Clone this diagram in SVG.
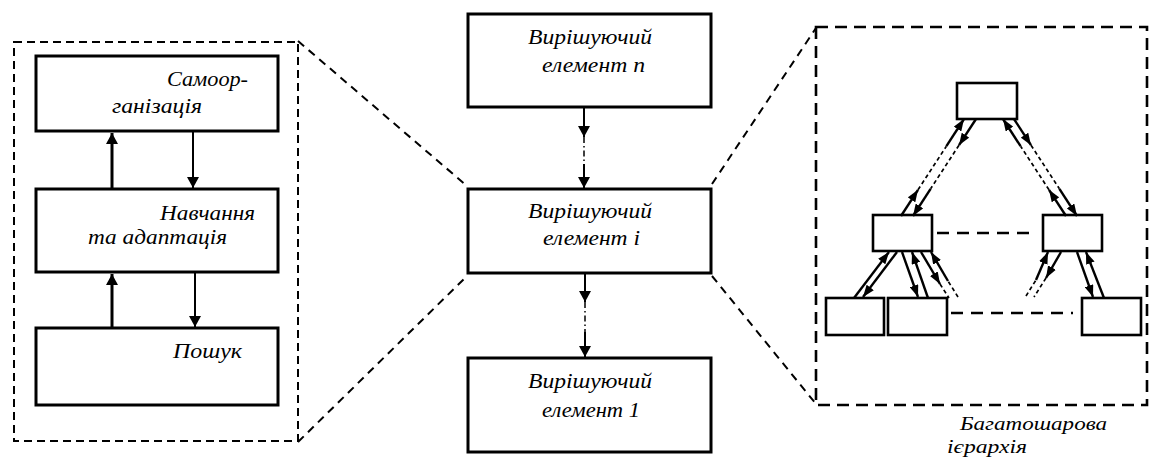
<svg xmlns="http://www.w3.org/2000/svg" width="1151" height="457" viewBox="0 0 1151 457">
  <style>
    .box { fill: #ffffff; stroke: #000; stroke-width: 3; }
    .sbox { fill: #ffffff; stroke: #000; stroke-width: 2.6; }
    .frame { fill: none; stroke: #000; stroke-width: 2; stroke-dasharray: 8 5; }
    .frame2 { fill: none; stroke: #000; stroke-width: 2.6; stroke-dasharray: 12 7; }
    .zoom { fill: none; stroke: #000; stroke-width: 2; stroke-dasharray: 8 6; }
    .lbl { font-family: "Liberation Serif", "DejaVu Serif", serif; font-style: italic; font-size: 21px; fill: #000; }
    .cap { font-size: 19px; }
    .up { stroke: #000; stroke-width: 3; fill: none; }
    .dn { stroke: #000; stroke-width: 2; fill: none; }
    .dd { stroke: #000; stroke-width: 1.5; fill: none; stroke-dasharray: 6 3 1.5 3; }
    .tl { stroke: #000; stroke-width: 2.4; fill: none; }
    .td { stroke: #000; stroke-width: 1.7; fill: none; stroke-dasharray: 4 3; }
    .hd { stroke: #000; stroke-width: 2.6; fill: none; stroke-dasharray: 12 8; }
  </style>
  <defs>
    <marker id="arr" markerUnits="userSpaceOnUse" markerWidth="12" markerHeight="12" refX="11" refY="6" orient="auto">
      <path d="M0,0 L11,6 L0,12 z" fill="#000"/>
    </marker>
    <marker id="arrs" markerUnits="userSpaceOnUse" markerWidth="13" markerHeight="9" refX="12" refY="4.5" orient="auto">
      <path d="M0,0 L12,4.5 L0,9 z" fill="#000"/>
    </marker>
  </defs>

  <!-- zoom-out guides from the middle element -->
  <g id="guides">
    <rect class="frame" x="14" y="42" width="284" height="399"/>
    <rect class="frame2" x="816" y="27" width="331" height="378"/>
    <line class="zoom" x1="298" y1="41" x2="467" y2="186"/>
    <line class="zoom" x1="298" y1="442" x2="467" y2="276"/>
    <line class="zoom" x1="712" y1="184" x2="816" y2="28"/>
    <line class="zoom" x1="712" y1="276" x2="816" y2="404"/>
  </g>

  <!-- left column: adaptation levels -->
  <g id="n-self">
    <rect class="box" x="36" y="56" width="242" height="75"/>
    <text class="lbl" x="167" y="86" textLength="81" lengthAdjust="spacingAndGlyphs">Самоор-</text>
    <text class="lbl" x="112" y="113" textLength="90" lengthAdjust="spacingAndGlyphs">ганізація</text>
  </g>
  <g id="n-learn">
    <rect class="box" x="36" y="189" width="242" height="83"/>
    <text class="lbl" x="160" y="220" textLength="95" lengthAdjust="spacingAndGlyphs">Навчання</text>
    <text class="lbl" x="88" y="244" textLength="139" lengthAdjust="spacingAndGlyphs">та адаптація</text>
  </g>
  <g id="n-search">
    <rect class="box" x="36" y="328" width="242" height="77"/>
    <text class="lbl" x="173" y="358" textLength="69" lengthAdjust="spacingAndGlyphs">Пошук</text>
  </g>

  <!-- middle column: decision elements -->
  <g id="n-elem-n">
    <rect class="box" x="468" y="14" width="243" height="93"/>
    <text class="lbl" x="528" y="44" textLength="124" lengthAdjust="spacingAndGlyphs">Вирішуючий</text>
    <text class="lbl" x="542" y="72" textLength="103" lengthAdjust="spacingAndGlyphs">елемент n</text>
  </g>
  <g id="n-elem-i">
    <rect class="box" x="468" y="189" width="243" height="84"/>
    <text class="lbl" x="528" y="218" textLength="124" lengthAdjust="spacingAndGlyphs">Вирішуючий</text>
    <text class="lbl" x="543" y="245" textLength="97" lengthAdjust="spacingAndGlyphs">елемент і</text>
  </g>
  <g id="n-elem-1">
    <rect class="box" x="468" y="358" width="243" height="94"/>
    <text class="lbl" x="528" y="388" textLength="124" lengthAdjust="spacingAndGlyphs">Вирішуючий</text>
    <text class="lbl" x="542" y="417" textLength="98" lengthAdjust="spacingAndGlyphs">елемент 1</text>
  </g>

  <!-- right frame: layered hierarchy -->
  <g id="t-top"><rect class="sbox" x="957" y="83" width="60" height="36"/></g>
  <g id="t-midL"><rect class="sbox" x="873" y="215" width="59" height="36"/></g>
  <g id="t-midR"><rect class="sbox" x="1043" y="215" width="59" height="36"/></g>
  <g id="t-b1"><rect class="sbox" x="826" y="298" width="58" height="37"/></g>
  <g id="t-b2"><rect class="sbox" x="888" y="298" width="59" height="37"/></g>
  <g id="t-b3"><rect class="sbox" x="1082" y="298" width="59" height="37"/></g>
  <g id="caption">
    <text class="lbl cap" x="960" y="430" textLength="147" lengthAdjust="spacingAndGlyphs">Багатошарова</text>
    <text class="lbl cap" x="947" y="453" textLength="80" lengthAdjust="spacingAndGlyphs">ієрархія</text>
  </g>

  <g id="connectors">
    <!-- left column -->
    <line class="up" x1="112" y1="189" x2="112" y2="133" marker-end="url(#arr)"/>
    <line class="dn" x1="193" y1="131" x2="193" y2="188" marker-end="url(#arr)"/>
    <line class="up" x1="112" y1="328" x2="112" y2="274" marker-end="url(#arr)"/>
    <line class="dn" x1="195" y1="272" x2="195" y2="327" marker-end="url(#arr)"/>

    <!-- middle column -->
    <line class="dn" x1="584" y1="107" x2="584" y2="137" marker-end="url(#arr)"/>
    <line class="dd" x1="584" y1="137" x2="584" y2="165"/>
    <line class="dn" x1="584" y1="164" x2="584" y2="188" marker-end="url(#arr)"/>
    <line class="dn" x1="585" y1="273" x2="585" y2="302" marker-end="url(#arr)"/>
    <line class="dd" x1="585" y1="302" x2="585" y2="333"/>
    <line class="dn" x1="585" y1="332" x2="585" y2="357" marker-end="url(#arr)"/>

    <!-- hierarchy: top to middle level -->
    <line class="tl" x1="901" y1="216" x2="918" y2="189.8" marker-end="url(#arrs)"/>
    <line class="td" x1="918" y1="189.8" x2="946.4" y2="146.2"/>
    <line class="tl" x1="946.4" y1="146.2" x2="964" y2="119" marker-end="url(#arrs)"/>
    <line class="tl" x1="976" y1="119" x2="959" y2="145.2" marker-end="url(#arrs)"/>
    <line class="td" x1="959" y1="145.2" x2="930.6" y2="188.8"/>
    <line class="tl" x1="930.6" y1="188.8" x2="913" y2="216" marker-end="url(#arrs)"/>

    <line class="tl" x1="1066" y1="216" x2="1049" y2="189.8" marker-end="url(#arrs)"/>
    <line class="td" x1="1049" y1="189.8" x2="1020.6" y2="146.2"/>
    <line class="tl" x1="1020.6" y1="146.2" x2="1003" y2="119" marker-end="url(#arrs)"/>
    <line class="tl" x1="1014" y1="119" x2="1031" y2="145.2" marker-end="url(#arrs)"/>
    <line class="td" x1="1031" y1="145.2" x2="1059.4" y2="188.8"/>
    <line class="tl" x1="1059.4" y1="188.8" x2="1077" y2="216" marker-end="url(#arrs)"/>

    <!-- hierarchy: middle to bottom level -->
    <line class="tl" x1="854" y1="298" x2="889" y2="252" marker-end="url(#arrs)"/>
    <line class="tl" x1="897" y1="252" x2="863" y2="297" marker-end="url(#arrs)"/>
    <line class="tl" x1="902" y1="252" x2="918" y2="297" marker-end="url(#arrs)"/>
    <line class="tl" x1="928" y1="298" x2="912" y2="252" marker-end="url(#arrs)"/>
    <line class="tl" x1="921" y1="252" x2="940" y2="284" marker-end="url(#arrs)"/>
    <line class="td" x1="940" y1="284" x2="949" y2="298"/>
    <line class="td" x1="958" y1="297" x2="948" y2="281"/>
    <line class="tl" x1="948" y1="281" x2="931" y2="252" marker-end="url(#arrs)"/>

    <line class="td" x1="1026" y1="296" x2="1036" y2="280"/>
    <line class="tl" x1="1036" y1="280" x2="1048" y2="252" marker-end="url(#arrs)"/>
    <line class="tl" x1="1061" y1="252" x2="1046" y2="278" marker-end="url(#arrs)"/>
    <line class="td" x1="1046" y1="278" x2="1034" y2="297"/>
    <line class="tl" x1="1077" y1="252" x2="1093" y2="297" marker-end="url(#arrs)"/>
    <line class="tl" x1="1104" y1="298" x2="1086" y2="252" marker-end="url(#arrs)"/>

    <!-- same-level links -->
    <line class="hd" x1="937" y1="233" x2="1037" y2="233"/>
    <line class="hd" x1="951" y1="313" x2="1073" y2="313"/>
  </g>
</svg>
